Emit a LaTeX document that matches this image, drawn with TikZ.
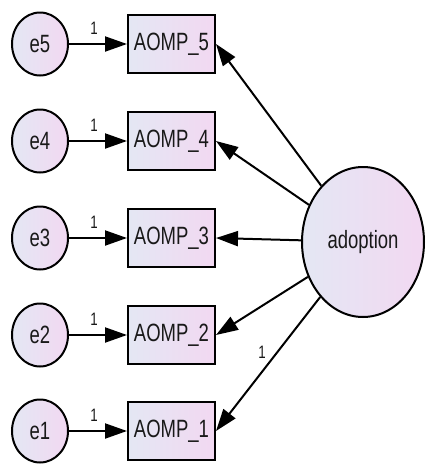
\documentclass[tikz,border=0pt]{standalone}
\usepackage{fontspec}
\setmainfont{Liberation Sans}
\newfontfamily\narrowfont[FakeStretch=0.74]{Liberation Sans}
\usetikzlibrary{shapes.geometric,arrows.meta}
\definecolor{shA}{HTML}{E4E7F3}
\definecolor{shB}{HTML}{F2D8F2}
\begin{document}
\begin{tikzpicture}[x=1pt,y=-1pt,
  every node/.style={font=\narrowfont\fontsize{25}{25}\selectfont, text=black!90},
  errv/.style={ellipse, draw, line width=2pt, minimum width=56pt, minimum height=63pt, inner sep=0pt, left color=shA, right color=shB},
  obsv/.style={rectangle, draw, line width=2pt, minimum width=87pt, minimum height=58pt, inner sep=0pt, left color=shA, right color=shB},
  latv/.style={ellipse, draw, line width=2pt, minimum width=122pt, minimum height=150pt, inner sep=0pt, left color=shA, right color=shB},
  arr/.style={line width=2pt, -{Triangle[length=22pt,width=15pt]}},
  lab/.style={font=\narrowfont\fontsize{18}{18}\selectfont, inner sep=0pt}
]
\useasboundingbox (0,0) rectangle (426,467);
\node[latv] (ad) at (363,242) {adoption};
\foreach \i/\y in {5/44,4/141,3/238,2/335,1/431}{
  \node[errv] (e\i) at (40,\y) {e\i};
  \node[obsv] (b\i) at (171.5,\y) {AOMP\_\i};
  \draw[arr] (e\i) -- (b\i);
  \node[lab] (l\i) at (94,\y-16) {1};
  \draw[arr] (ad) -- (b\i.east);
}
\node[lab] (la) at (262,352) {1};
\end{tikzpicture}
\end{document}
